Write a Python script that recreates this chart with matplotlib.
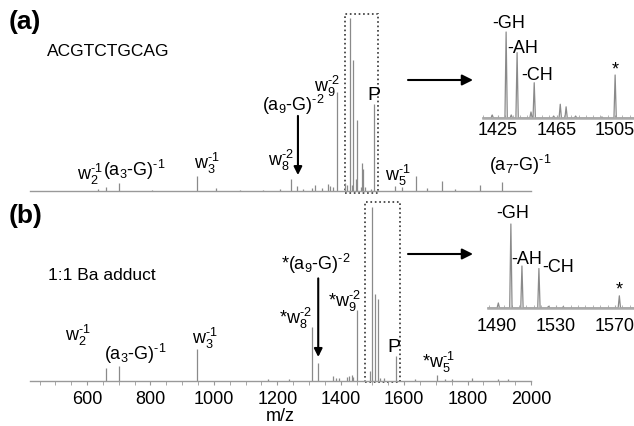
import matplotlib
matplotlib.use('Agg')
import matplotlib.pyplot as plt
from matplotlib.patches import Rectangle
from matplotlib.ticker import MultipleLocator

plt.rcParams['font.family'] = ['Liberation Sans', 'DejaVu Sans']
plt.rcParams['mathtext.fontset'] = 'custom'
plt.rcParams['mathtext.rm'] = 'Liberation Sans'
plt.rcParams['mathtext.it'] = 'Liberation Sans:italic'
plt.rcParams['mathtext.bf'] = 'Liberation Sans:bold'
plt.rcParams['mathtext.default'] = 'regular'

# ---------------- data ----------------
# (a) ACGTCTGCAG spectrum: peak m/z and relative intensity (%)
mz_a = [634, 660, 701, 805, 947, 1007, 1082, 1155, 1209, 1243, 1262, 1281, 1310, 1319,
        1341, 1360, 1366, 1376, 1388, 1412, 1421, 1430.5, 1434, 1438, 1447.5, 1449.7,
        1463, 1467.5, 1471.5, 1478, 1496, 1505, 1571, 1593, 1638, 1672, 1720, 1760,
        1840, 1909]
int_a = [1.0, 2.3, 4.6, 0.8, 8.7, 1.7, 0.8, 0.8, 1.0, 6.9, 2.9, 1.2, 2.0, 3.5,
         1.7, 4.0, 2.9, 2.3, 57, 4.6, 3.5, 100, 3.5, 76, 7, 41,
         2.3, 16, 13, 2.3, 1.2, 50, 2.9, 2.3, 8.5, 1.7, 5.8, 1.2,
         3.5, 5.2]

# (b) 1:1 Ba adduct spectrum
mz_b = [660, 701, 947, 1171, 1237, 1310, 1329, 1376, 1385, 1395, 1420, 1426, 1436,
        1439, 1452, 1491, 1499.5, 1507, 1518.5, 1525, 1535, 1573, 1635, 1704, 1730,
        1750, 1815, 1897, 1928]
int_b = [7.5, 8.6, 18.4, 1.2, 1.2, 31, 10.3, 2.9, 1.7, 1.7, 2.3, 2.9, 3.4,
         2.3, 41, 6, 100, 50, 47, 2, 1.5, 14.5, 1.2, 3.5, 1.2,
         1.2, 1.7, 1.2, 1.2]

xticks_main = [600, 800, 1000, 1200, 1400, 1600, 1800, 2000]
xticks_ins_a = [1425, 1465, 1505]
xticks_ins_b = [1490, 1530, 1570]

HY = '\u2010'  # short hyphen for charge states
labels_a = [(f'w$_2^{{{HY}1}}$', 609, 9.8), (f'(a$_3$-G)$^{{{HY}1}}$', 748, 12.1),
            (f'w$_3^{{{HY}1}}$', 978, 16.2), (f'w$_8^{{{HY}2}}$', 1212, 17.9),
            (f'(a$_9$-G)$^{{{HY}2}}$', 1250, 49.7), (f'w$_9^{{{HY}2}}$', 1357, 60.7),
            (f'w$_5^{{{HY}1}}$', 1581, 9.2), (f'(a$_7$-G)$^{{{HY}1}}$', 1966, 15.0)]
labels_b = [(f'w$_2^{{{HY}1}}$', 571, 25.9), (f'(a$_3$-G)$^{{{HY}1}}$', 751, 15.5),
            (f'w$_3^{{{HY}1}}$', 972, 24.7), (f'*w$_8^{{{HY}2}}$', 1256, 36.2),
            (f'*(a$_9$-G)$^{{{HY}2}}$', 1322, 67.2), (f'*w$_9^{{{HY}2}}$', 1411, 46.0),
            (f'*w$_5^{{{HY}1}}$', 1707, 10.9)]
ins_labels_a = [('-GH', 1432.5, 110), ('-AH', 1442, 81), ('-CH', 1452, 50), ('*', 1505, 56)]
ins_labels_b = [('-GH', 1501, 113), ('-AH', 1510.5, 58), ('-CH', 1531.5, 48), ('*', 1573, 21)]

# ---------------- layout ----------------
W, H = 634, 426
fig = plt.figure(figsize=(W / 100, H / 100), dpi=100)


def px_axes(x0, y0, x1, y1):
    return fig.add_axes([x0 / W, 1 - y1 / H, (x1 - x0) / W, (y1 - y0) / H])


GRAY = '#8a8a8a'
FS = 13

ax_a = px_axes(30, 14, 531, 191)
ax_b = px_axes(30, 202, 531, 381)

for ax, mz, it, ytop in [(ax_a, mz_a, int_a, 102.3), (ax_b, mz_b, int_b, 102.9)]:
    ax.vlines(mz, 0, it, color=GRAY, lw=0.9)
    ax.set_xlim(420, 2000)
    ax.set_ylim(0, ytop)
    ax.patch.set_alpha(0)
    for s in ['left', 'top', 'right']:
        ax.spines[s].set_visible(False)
    ax.spines['bottom'].set_color('#999999')
    ax.spines['bottom'].set_linewidth(1.0)
    ax.set_yticks([])

ax_a.set_xticks([])
ax_b.set_xticks(xticks_main)
ax_b.xaxis.set_minor_locator(MultipleLocator(50))
ax_b.tick_params(axis='x', which='both', direction='out', colors='#999999',
                 labelcolor='black', labelsize=13, length=3, pad=4)
ax_b.set_xlabel('m/z', fontsize=13, labelpad=0)

# dotted zoom boxes
ax_a.add_patch(Rectangle((1414, -1.2), 104, 103.5, fill=False, ls=':', lw=1.2,
                         ec='#333333', clip_on=False))
ax_b.add_patch(Rectangle((1477, -0.6), 110, 103.5, fill=False, ls=':', lw=1.2,
                         ec='#333333', clip_on=False))

# peak labels
for ax, labs in [(ax_a, labels_a), (ax_b, labels_b)]:
    for t, x, y in labs:
        ax.text(x, y, t, fontsize=FS, ha='center', va='center')
ax_a.text(1505, 55, 'P', fontsize=14, ha='center', va='center')
ax_b.text(1568, 19, 'P', fontsize=14, ha='center', va='center')

# vertical arrows
ax_a.annotate('', xy=(1265, 9.2), xytext=(1265, 43.4),
              arrowprops=dict(arrowstyle='-|>', color='k', lw=1.5, mutation_scale=12,
                              shrinkA=0, shrinkB=0))
ax_b.annotate('', xy=(1329, 13.8), xytext=(1329, 59),
              arrowprops=dict(arrowstyle='-|>', color='k', lw=1.5, mutation_scale=12,
                              shrinkA=0, shrinkB=0))


# ---------------- insets ----------------
def draw_inset(box, xlim, mz, it, ticks, labs, pad):
    ax = px_axes(*box)
    xs, ys = [xlim[0]], [0]
    hw = 0.8
    for m, v in sorted(zip(mz, it)):
        if xlim[0] < m < xlim[1]:
            xs += [m - hw, m, m + hw]
            ys += [0, v, 0]
    xs.append(xlim[1])
    ys.append(0)
    ax.plot(xs, ys, color=GRAY, lw=0.9, clip_on=False)
    ax.set_xlim(*xlim)
    ax.set_ylim(0, 100)
    ax.patch.set_alpha(0)
    for s in ['left', 'top', 'right']:
        ax.spines[s].set_visible(False)
    ax.spines['bottom'].set_color('#aaaaaa')
    ax.spines['bottom'].set_linewidth(1.8)
    ax.set_yticks([])
    ax.set_xticks(ticks)
    ax.xaxis.set_minor_locator(MultipleLocator(5))
    ax.tick_params(axis='x', which='both', direction='in', colors='#aaaaaa',
                   labelcolor='black', labelsize=13, length=2, pad=pad)
    for t, x, y in labs:
        ax.text(x, y, t, fontsize=13, ha='center', va='center')
    return ax


draw_inset((483, 32, 640, 118), (1414.7, 1522), mz_a, int_a, xticks_ins_a, ins_labels_a, 3)
draw_inset((488, 224, 640, 308), (1484, 1587), mz_b, int_b, xticks_ins_b, ins_labels_b, 7)

# ---------------- overlay for panel text & horizontal arrows ----------------
ov = fig.add_axes([0, 0, 1, 1])
ov.set_xlim(0, W)
ov.set_ylim(H, 0)
ov.axis('off')
ov.patch.set_alpha(0)
ov.text(9, 22, '(a)', fontsize=19, fontweight='bold', ha='left', va='center')
ov.text(9, 216, '(b)', fontsize=19, fontweight='bold', ha='left', va='center')
ov.text(47, 52, 'ACGTCTGCAG', fontsize=12.5, ha='left', va='center')
ov.text(48, 276, '1:1 Ba adduct', fontsize=12.5, ha='left', va='center')
for y in (80, 254):
    ov.annotate('', xy=(473, y), xytext=(408, y),
                arrowprops=dict(arrowstyle='-|>', color='k', lw=1.5, mutation_scale=16,
                                shrinkA=0, shrinkB=0))

fig.savefig('out.png', dpi=100)
